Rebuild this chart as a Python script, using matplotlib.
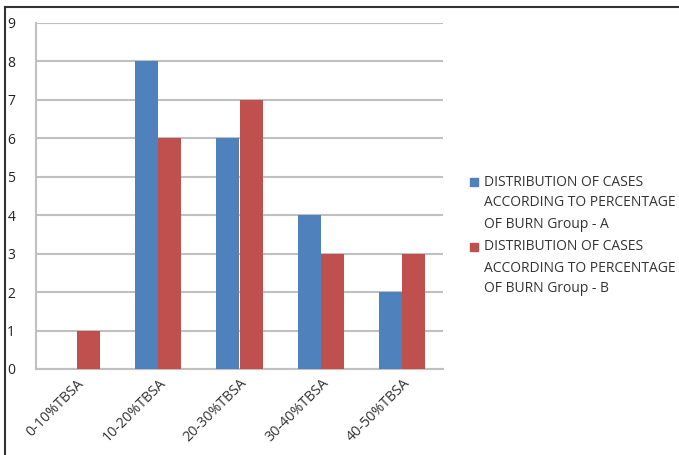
import numpy as np
import matplotlib.pyplot as plt
from matplotlib.lines import Line2D
from matplotlib.patches import Rectangle

categories = ["0-10%TBSA", "10-20%TBSA", "20-30%TBSA", "30-40%TBSA", "40-50%TBSA"]
group_a = [0, 8, 6, 4, 2]
group_b = [1, 6, 7, 3, 3]
labels = [["DISTRIBUTION OF CASES", "ACCORDING TO PERCENTAGE", "OF BURN Group - A"],
          ["DISTRIBUTION OF CASES", "ACCORDING TO PERCENTAGE", "OF BURN Group - B"]]

blue = "#4F81BD"
red = "#C0504D"
grid_col = "#C0C0C0"
text_col = "#333333"

plt.rcParams['font.family'] = ['Open Sans', 'DejaVu Sans']

W, H = 679, 455
fig = plt.figure(figsize=(W / 100, H / 100), dpi=100)
ax = fig.add_axes([36 / W, 1 - 369 / H, 407 / W, 346 / H])

x = np.arange(len(categories))
w = 0.285
ax.bar(x - w / 2, group_a, w, color=blue, zorder=3)
ax.bar(x + w / 2, group_b, w, color=red, zorder=3)

ax.set_xlim(-0.5, len(categories) - 0.5)
ax.set_ylim(0, 9)
ax.set_yticks(range(10))
ax.yaxis.grid(True, color=grid_col, linewidth=1.5, zorder=0)
ax.tick_params(axis='y', length=0, pad=15, labelsize=10, labelcolor="#222222")
ax.tick_params(axis='x', length=0, pad=5, labelsize=10.3, labelcolor=text_col)
ax.set_xticks(x)
ax.set_xticklabels(categories, rotation=45, ha='right', rotation_mode='anchor')
for s in ['top', 'right']:
    ax.spines[s].set_visible(False)
for s in ['left', 'bottom']:
    ax.spines[s].set_color(grid_col)
    ax.spines[s].set_linewidth(1.5)

# legend drawn by hand so the swatch sits beside the first line of each entry
for i, (lines, col) in enumerate(zip(labels, [blue, red])):
    y0 = 182 + i * 65
    fig.add_artist(Rectangle((470 / W, 1 - (y0 + 4) / H), 8 / W, 8 / H,
                             transform=fig.transFigure, color=col))
    for j, line in enumerate(lines):
        fig.text(484 / W, 1 - (y0 + j * 21) / H, line, fontsize=10,
                 color=text_col, va='center', ha='left')

# outer chart frame (left and top edges)
fig.add_artist(Line2D([5 / W, 5 / W], [0, 1 - 7 / H], transform=fig.transFigure,
                      color="#333333", linewidth=1.5))
fig.add_artist(Line2D([5 / W, 1], [1 - 7 / H, 1 - 7 / H], transform=fig.transFigure,
                      color="#333333", linewidth=1.5))

fig.savefig("out.png", dpi=100)
